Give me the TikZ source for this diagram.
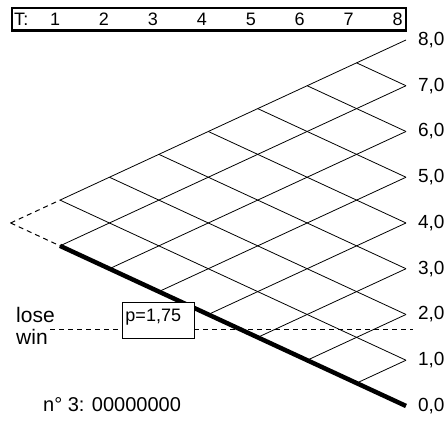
\documentclass[tikz,border=0pt]{standalone}
\usepackage{fontspec}
\setmainfont{Liberation Sans}

\begin{document}
\begin{tikzpicture}[x=49.43pt, y=45.75pt]
	% Stili
	\tikzset{
		etichetta/.style={font=\fontsize{18}{20}\selectfont, inner sep=0pt},
		valore/.style={font=\fontsize{19}{21}\selectfont, inner sep=0pt, anchor=west},
		testo/.style={font=\fontsize{21}{24}\selectfont, inner sep=0pt, anchor=west},
		reticolo/.style={line width=0.8pt},
		perdita/.style={line width=4.5pt},
		tratteggio/.style={line width=1pt, dash pattern=on 5pt off 4pt},
		pbox/.style={draw, fill=white, line width=1pt, anchor=north west,
			font=\fontsize{18}{20}\selectfont, text width=66pt, align=left,
			inner xsep=3pt, inner ysep=0pt, minimum height=36pt,
			text height=14pt, text depth=11pt}
	}
	\useasboundingbox (-1.214,-0.35) rectangle (7.809,8.874);

	% Barra dei tempi
	\draw[line width=2.8pt] (-0.97,8.2) rectangle (7,8.7);
	\node[etichetta, anchor=west] (T) at (-0.93,8.45) {T:};
	\foreach \t in {1,...,8}
		\node[etichetta] (t\t) at ({(\t-1)*0.99-0.1},8.45) {\t};

	% Radice e primi nodi
	\coordinate (radice) at (-1,4);
	\coordinate (su) at (0,4.5);
	\coordinate (giu) at (0,3.5);
	\draw[tratteggio] (radice) -- (su);
	\draw[tratteggio] (radice) -- (giu);

	% Reticolo (estremi a destra nei valori 0..8)
	\foreach \k in {0,...,8}
		\coordinate (f\k) at (7,\k);
	\draw[reticolo] (su) -- (f8);
	\foreach \k in {1,...,7} {
		\draw[reticolo] (7-\k,0.5*\k) -- (f\k);
		\draw[reticolo] (\k-1,4+0.5*\k) -- (f\k);
	}

	% Cammino 00000000
	\draw[perdita] (giu) -- (f0);

	% Soglia lose / win
	\coordinate (sogliaA) at (-0.2,1.68);
	\coordinate (sogliaB) at (7.14,1.68);
	\draw[tratteggio] (sogliaA) -- (sogliaB);
	\node[testo] (lose) at (-0.89,1.99) {lose};
	\node[testo] (win) at (-0.89,1.51) {win};
	\node[pbox] (p) at (1.254,2.273) {p=1,75};

	% Valori finali
	\foreach \k in {0,...,8}
		\node[valore] (v\k) at (7.24,\k) {\k,0};

	\node[testo, font=\fontsize{20}{24}\selectfont] (cammino) at (-0.344,0.04) {n° 3: 00000000};
\end{tikzpicture}
\end{document}
